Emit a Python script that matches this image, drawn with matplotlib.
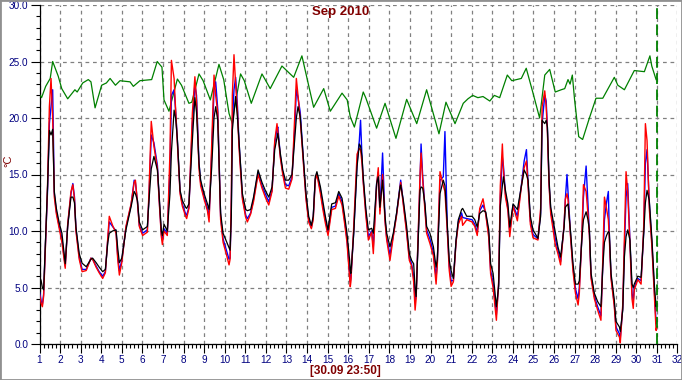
import numpy as np
import matplotlib.pyplot as plt
from matplotlib.patches import Rectangle
from matplotlib.ticker import MultipleLocator, FormatStrFormatter

# shared time knots (day of month) for the three indoor/outdoor sensor series
t_temp = [
    1.00, 1.08, 1.14, 1.20, 1.28, 1.39, 1.48, 1.56, 1.64, 1.72, 1.82, 1.96,
    2.09, 2.25, 2.37, 2.53, 2.62, 2.70, 2.77, 2.93, 3.07, 3.27, 3.50, 3.58,
    3.75, 3.90, 4.07, 4.20, 4.32, 4.39, 4.55, 4.72, 4.80, 4.88, 5.00, 5.20,
    5.45, 5.60, 5.66, 5.76, 5.85, 6.01, 6.24, 6.32, 6.43, 6.56, 6.73, 6.81,
    6.92, 6.97, 7.05, 7.21, 7.34, 7.41, 7.54, 7.62, 7.70, 7.83, 7.94, 8.10,
    8.15, 8.26, 8.43, 8.55, 8.63, 8.75, 8.83, 9.00, 9.16, 9.24, 9.37, 9.48,
    9.56, 9.66, 9.80, 9.92, 10.10, 10.21, 10.26, 10.32, 10.37, 10.45, 10.53, 10.62,
    10.69, 10.86, 11.02, 11.10, 11.26, 11.40, 11.62, 11.81, 11.97, 12.14, 12.30, 12.43,
    12.54, 12.58, 12.70, 12.82, 12.95, 13.11, 13.27, 13.40, 13.48, 13.56, 13.67, 13.84,
    13.95, 14.08, 14.21, 14.30, 14.40, 14.48, 14.65, 14.76, 14.89, 15.02, 15.13, 15.20,
    15.38, 15.54, 15.70, 15.83, 15.94, 16.07, 16.10, 16.13, 16.27, 16.43, 16.54, 16.60,
    16.67, 16.73, 16.86, 16.98, 17.14, 17.22, 17.38, 17.46, 17.54, 17.67, 17.79, 17.87,
    18.03, 18.19, 18.35, 18.52, 18.55, 18.68, 18.84, 18.97, 19.08, 19.18, 19.25, 19.30,
    19.41, 19.49, 19.54, 19.62, 19.73, 19.81, 19.97, 20.14, 20.27, 20.33, 20.38, 20.46,
    20.62, 20.70, 20.82, 20.91, 21.00, 21.11, 21.24, 21.35, 21.51, 21.56, 21.76, 22.02,
    22.15, 22.27, 22.39, 22.55, 22.68, 22.83, 22.92, 23.04, 23.20, 23.31, 23.39, 23.49,
    23.54, 23.64, 23.76, 23.85, 24.01, 24.22, 24.41, 24.55, 24.66, 24.74, 24.85, 24.98,
    25.22, 25.35, 25.42, 25.55, 25.62, 25.68, 25.76, 25.84, 25.95, 26.05, 26.19, 26.32,
    26.49, 26.55, 26.63, 26.68, 26.81, 26.92, 27.04, 27.17, 27.23, 27.35, 27.43, 27.56,
    27.65, 27.72, 27.80, 27.96, 28.12, 28.28, 28.37, 28.45, 28.55, 28.64, 28.69, 28.77,
    28.93, 29.01, 29.18, 29.22, 29.34, 29.42, 29.50, 29.58, 29.69, 29.79, 29.85, 29.90,
    30.07, 30.23, 30.36, 30.44, 30.52, 30.63, 30.76, 30.88, 30.96, 30.99,
]

black_vals = [
    6.0, 5.6, 5.0, 4.8, 8.6, 13.9, 18.9, 18.5, 19.0, 13.5, 12.0, 10.7,
    9.8, 7.1, 10.4, 13.0, 13.0, 12.5, 10.35, 8.0, 7.15, 6.84, 7.5, 7.6,
    7.2, 6.8, 6.4, 6.6, 9.0, 9.8, 10.0, 10.1, 8.5, 7.2, 7.6, 10.1,
    12.15, 13.5, 13.3, 12.7, 10.8, 10.1, 10.4, 12.7, 15.5, 16.6, 15.4, 13.3,
    10.0, 9.6, 10.6, 10.0, 13.3, 17.0, 20.7, 19.9, 18.1, 13.6, 12.7, 12.1,
    12.0, 12.4, 18.1, 21.8, 20.5, 16.0, 14.5, 13.3, 12.4, 11.9, 15.7, 20.0,
    21.0, 19.8, 11.6, 9.8, 9.0, 8.5, 8.3, 11.3, 18.9, 20.5, 21.9, 20.0,
    18.1, 13.3, 11.9, 11.8, 11.9, 13.0, 15.4, 14.3, 13.6, 13.0, 13.9, 17.2,
    18.3, 18.65, 16.9, 15.4, 14.5, 14.5, 15.0, 18.1, 20.0, 21.0, 20.1, 16.0,
    13.3, 11.3, 10.5, 11.3, 14.8, 15.25, 13.9, 12.7, 11.3, 10.1, 11.6, 12.4,
    12.5, 13.5, 12.9, 11.3, 9.8, 7.4, 6.5, 6.25, 9.8, 15.7, 17.7, 17.5,
    16.6, 14.8, 11.9, 10.1, 10.24, 9.8, 14.2, 14.8, 12.1, 14.5, 11.3, 9.8,
    8.6, 9.8, 11.6, 13.9, 14.07, 12.7, 10.4, 8.0, 7.4, 7.1, 5.0, 4.2,
    9.8, 13.6, 13.9, 13.8, 12.4, 10.4, 9.8, 8.6, 6.8, 7.5, 9.8, 13.3,
    14.5, 14.0, 10.4, 7.4, 6.5, 5.8, 9.2, 11.0, 11.9, 12.0, 11.3, 11.3,
    11.0, 10.35, 11.55, 11.8, 11.7, 10.1, 7.1, 6.25, 3.3, 5.1, 12.2, 14.0,
    14.8, 13.6, 12.4, 10.35, 12.4, 11.9, 13.9, 15.4, 15.0, 14.5, 11.3, 10.1,
    9.35, 11.3, 19.8, 19.5, 19.8, 19.2, 14.5, 12.1, 11.0, 10.0, 8.6, 7.7,
    10.35, 12.1, 12.3, 12.4, 9.8, 7.15, 5.3, 5.3, 5.6, 9.2, 11.0, 11.7,
    11.0, 10.1, 6.25, 4.5, 3.75, 3.3, 6.8, 9.0, 9.6, 9.95, 9.8, 6.25,
    3.9, 2.0, 1.5, 1.1, 3.0, 7.7, 9.5, 10.1, 9.2, 5.3, 5.0, 5.3,
    6.0, 5.9, 9.8, 12.5, 13.6, 12.7, 9.2, 5.1, 3.3, 3.6,
]

red_vals = [
    4.4, 3.6, 3.3, 4.2, 8.2, 14.0, 21.0, 23.5, 20.0, 13.0, 11.5, 10.2,
    9.0, 6.7, 10.6, 13.5, 14.1, 12.8, 10.0, 7.5, 6.4, 6.5, 7.6, 7.5,
    6.8, 6.3, 5.8, 6.3, 9.5, 11.3, 10.5, 9.8, 7.5, 6.1, 7.2, 10.4,
    12.4, 14.3, 14.5, 12.5, 10.4, 9.6, 9.9, 13.5, 19.7, 17.5, 15.5, 12.8,
    9.5, 8.8, 10.0, 9.6, 17.0, 25.1, 23.5, 20.5, 17.8, 13.3, 12.2, 11.3,
    11.1, 12.0, 20.5, 23.65, 21.5, 15.5, 14.0, 12.8, 11.8, 10.8, 18.0, 23.8,
    22.0, 20.5, 11.0, 9.0, 7.8, 7.0, 7.5, 13.0, 22.0, 25.6, 23.0, 20.5,
    17.5, 12.8, 11.2, 10.8, 11.5, 12.6, 15.0, 13.8, 13.0, 12.3, 13.5, 18.0,
    19.5, 18.8, 16.5, 15.0, 13.8, 13.7, 14.6, 20.0, 23.5, 22.0, 19.8, 15.5,
    12.8, 10.8, 10.2, 11.0, 14.5, 15.0, 13.3, 12.0, 10.7, 9.6, 11.0, 11.9,
    12.0, 13.1, 12.3, 10.6, 9.0, 5.8, 5.07, 5.5, 10.5, 16.8, 17.3, 17.2,
    16.0, 14.3, 11.3, 9.2, 9.9, 8.0, 14.0, 15.6, 11.5, 15.0, 10.8, 9.2,
    7.4, 9.5, 11.4, 13.9, 14.3, 12.3, 9.8, 7.4, 6.9, 5.5, 3.0, 4.0,
    10.5, 15.0, 16.9, 14.5, 11.8, 9.8, 8.9, 7.8, 5.3, 7.0, 10.5, 15.25,
    14.0, 13.5, 9.8, 6.5, 5.1, 5.5, 9.0, 10.6, 11.3, 10.5, 11.0, 10.8,
    10.4, 9.6, 12.0, 12.85, 11.5, 9.4, 6.2, 5.0, 2.1, 5.5, 14.0, 17.7,
    15.5, 13.0, 11.8, 9.5, 12.2, 10.9, 13.9, 15.6, 16.2, 14.0, 10.6, 9.4,
    9.2, 12.0, 21.0, 22.4, 21.0, 18.7, 14.0, 11.5, 10.2, 8.9, 8.0, 7.0,
    10.6, 12.8, 13.3, 12.8, 9.3, 6.5, 4.5, 3.45, 4.5, 9.5, 14.1, 13.5,
    11.5, 9.6, 5.8, 4.0, 3.0, 2.1, 7.5, 13.0, 12.0, 11.0, 9.2, 5.8,
    3.3, 1.2, 0.6, 0.1, 3.5, 9.5, 15.25, 13.5, 8.8, 4.0, 3.15, 4.8,
    5.7, 5.3, 10.5, 19.5, 18.0, 12.0, 8.5, 4.0, 1.2, 1.5,
]

blue_vals = [
    4.6, 3.8, 3.5, 4.4, 8.4, 13.5, 19.5, 21.0, 22.5, 13.3, 11.7, 10.4,
    9.3, 6.9, 10.5, 13.3, 14.2, 13.0, 10.2, 7.7, 6.6, 6.6, 7.6, 7.5,
    6.9, 6.4, 6.0, 6.4, 9.3, 10.8, 10.4, 10.0, 7.8, 6.5, 7.4, 10.3,
    12.3, 14.5, 14.3, 12.6, 10.5, 9.8, 10.1, 13.0, 18.5, 17.8, 15.8, 13.0,
    9.7, 9.2, 10.2, 9.8, 15.5, 22.0, 22.5, 20.5, 18.0, 13.5, 12.4, 11.5,
    11.4, 12.1, 19.5, 23.0, 22.0, 16.0, 14.3, 13.0, 12.0, 11.2, 17.0, 22.5,
    23.2, 20.8, 11.3, 9.3, 8.2, 7.5, 7.6, 12.0, 19.5, 22.5, 23.6, 21.0,
    18.0, 13.0, 11.4, 11.1, 11.6, 12.8, 15.2, 14.0, 13.3, 12.6, 13.6, 17.8,
    19.0, 19.2, 16.7, 15.2, 14.1, 14.0, 14.8, 19.0, 22.5, 21.8, 20.5, 15.8,
    13.0, 11.0, 10.3, 11.2, 14.6, 15.1, 13.6, 12.3, 11.0, 9.8, 11.3, 12.1,
    12.2, 13.3, 12.6, 10.9, 9.3, 6.3, 5.5, 5.8, 10.0, 16.0, 18.0, 19.8,
    16.5, 14.5, 11.6, 9.5, 10.0, 8.6, 14.2, 15.2, 11.8, 16.9, 11.0, 9.4,
    7.9, 9.6, 11.5, 14.0, 14.5, 12.5, 10.0, 7.6, 7.1, 6.0, 3.8, 4.3,
    10.0, 14.5, 17.7, 14.8, 12.0, 10.1, 9.3, 8.1, 5.9, 7.2, 10.0, 14.5,
    14.8, 18.8, 10.0, 6.9, 5.6, 5.6, 9.1, 10.8, 11.6, 11.2, 11.1, 11.0,
    10.6, 9.9, 11.8, 12.3, 11.6, 9.7, 6.5, 5.4, 2.6, 5.3, 13.0, 16.5,
    15.8, 13.3, 12.0, 9.9, 12.3, 11.3, 14.0, 16.2, 17.2, 14.3, 10.9, 9.7,
    9.3, 11.6, 19.5, 22.0, 21.5, 19.0, 14.2, 11.8, 10.6, 9.4, 8.3, 7.3,
    10.5, 12.8, 15.0, 13.5, 9.5, 6.8, 4.9, 4.0, 5.0, 9.3, 13.0, 15.75,
    12.5, 9.8, 6.0, 4.2, 3.3, 2.5, 7.0, 11.0, 12.5, 13.5, 9.6, 6.0,
    3.5, 1.5, 0.9, 0.5, 3.2, 8.5, 13.0, 14.2, 9.0, 4.5, 3.8, 5.0,
    5.8, 5.6, 10.0, 16.0, 17.2, 12.5, 8.8, 4.5, 1.8, 2.0,
]

t_green = [
    1.00, 1.10, 1.30, 1.52, 1.64, 1.91, 2.08, 2.37, 2.72, 2.83, 3.10, 3.37,
    3.50, 3.70, 4.02, 4.25, 4.43, 4.69, 4.91, 5.40, 5.56, 5.88, 6.45, 6.72,
    6.95, 7.05, 7.29, 7.70, 7.90, 8.26, 8.40, 8.75, 8.95, 9.30, 9.72, 9.95,
    10.21, 10.37, 10.45, 10.77, 10.95, 11.29, 11.81, 12.21, 12.78, 13.35, 13.75, 14.32,
    14.81, 15.13, 15.70, 15.95, 16.10, 16.30, 16.73, 16.85, 17.38, 17.79, 18.32, 18.84,
    19.33, 19.81, 20.41, 20.75, 21.19, 21.59, 21.82, 22.05, 22.30, 22.55, 22.88, 23.10,
    23.36, 23.73, 23.95, 24.41, 24.65, 24.98, 25.30, 25.55, 25.79, 26.06, 26.35, 26.52,
    26.68, 26.78, 26.89, 27.00, 27.20, 27.39, 27.72, 28.04, 28.37, 28.93, 29.10, 29.42,
    29.90, 30.39, 30.66, 30.75, 30.96,
]

green_vals = [
    22.1, 21.8, 22.8, 23.5, 25.0, 23.7, 22.6, 21.7, 22.5, 22.3, 23.1, 23.4,
    23.2, 20.9, 22.9, 23.1, 23.5, 22.9, 23.3, 23.2, 22.8, 23.3, 23.4, 25.0,
    24.5, 21.6, 20.6, 23.45, 22.9, 21.3, 21.4, 23.9, 23.3, 21.6, 24.75, 23.4,
    20.4, 19.5, 20.6, 23.9, 23.3, 21.3, 23.9, 22.6, 24.6, 23.6, 25.5, 20.95,
    22.6, 20.6, 22.2, 21.6, 20.1, 19.2, 22.3, 21.8, 19.1, 21.3, 18.2, 21.65,
    19.5, 22.5, 18.6, 21.4, 19.5, 21.3, 21.7, 22.0, 21.8, 21.9, 21.5, 22.0,
    21.8, 23.8, 23.3, 23.5, 24.4, 22.2, 20.0, 23.8, 24.3, 22.3, 22.5, 22.6,
    23.4, 23.0, 23.8, 21.6, 18.35, 18.1, 20.0, 21.75, 21.75, 23.6, 22.9, 22.5,
    24.2, 24.1, 25.5, 24.6, 23.4,
]

cursor_day = 31
title = "Sep 2010"
stamp = "[30.09 23:50]"

maroon = "#800000"
navy = "#000080"

fig = plt.figure(figsize=(6.82, 3.80), dpi=100)
ax = fig.add_axes([39.5 / 682, 36 / 380, 638 / 682, 339 / 380])

ax.plot(t_green, green_vals, color="#008000", lw=0.9, zorder=3)
ax.plot(t_temp, blue_vals, color="#0000ff", lw=1.0, zorder=4)
ax.plot(t_temp, red_vals, color="#ff0000", lw=1.0, zorder=5)
ax.plot(t_temp, black_vals, color="black", lw=0.9, zorder=6)

ax.axvline(cursor_day, color="#008000", lw=1.3, ls=(0, (6, 3)), zorder=7)

ax.set_xlim(1, 32)
ax.set_ylim(0, 30)
ax.xaxis.set_major_locator(MultipleLocator(1))
ax.xaxis.set_minor_locator(MultipleLocator(0.2))
ax.yaxis.set_major_locator(MultipleLocator(5))
ax.yaxis.set_minor_locator(MultipleLocator(1))
ax.yaxis.set_major_formatter(FormatStrFormatter("%.1f"))
ax.xaxis.set_major_formatter(FormatStrFormatter("%d"))

ax.tick_params(which="major", length=6.5, width=0.8, color="black",
               labelcolor=navy, labelsize=7.2, pad=1.5)
ax.tick_params(which="minor", length=3, width=0.8, color="black")
for lab in ax.get_xticklabels() + ax.get_yticklabels():
    lab.set_family("Liberation Sans")

ax.grid(True, which="major", color="#808080", ls=(0, (3, 3)), lw=0.9, zorder=1)
ax.xaxis.get_gridlines()[-1].set_visible(False)
ax.yaxis.get_gridlines()[-1].set_visible(False)

for s in ("top", "right"):
    ax.spines[s].set_visible(False)
for s in ("left", "bottom"):
    ax.spines[s].set_linewidth(0.9)

fig.text(341 / 682, 1 - 12 / 380, title, color=maroon, fontsize=9.5,
         fontweight="bold", family="Liberation Sans", ha="center", va="center")
fig.text(8 / 682, 1 - 161 / 380, "°C", color=maroon, fontsize=8,
         family="Liberation Sans", rotation=90, ha="center", va="center")
fig.text(345 / 682, 1 - 371 / 380, stamp, color=maroon, fontsize=8.5,
         fontweight="bold", family="Liberation Sans", ha="center", va="center")

fig.patches.append(Rectangle((0, 0), 1, 1, transform=fig.transFigure,
                             fill=False, edgecolor="#909090", lw=2.0))

fig.savefig("out.png", dpi=100)
